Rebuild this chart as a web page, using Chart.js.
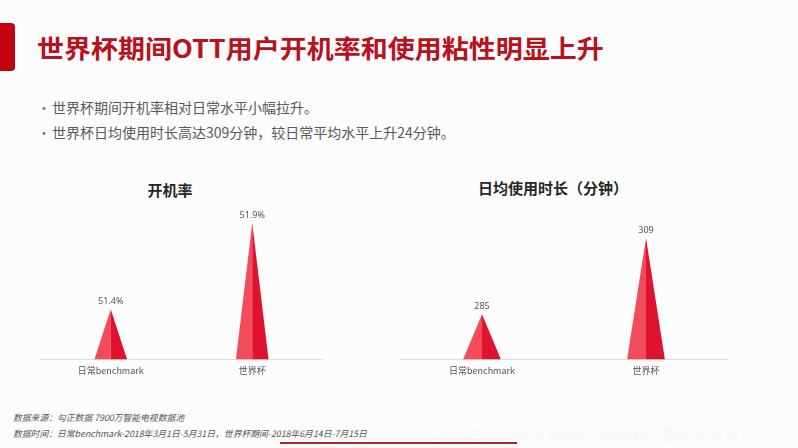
<!DOCTYPE html>
<html>
<head>
<meta charset="utf-8">
<script src="https://cdn.jsdelivr.net/npm/chart.js@4.4.0/dist/chart.umd.min.js"></script>
<style>
  html,body{margin:0;padding:0;}
  body{width:798px;height:448px;background:#fbfcfb;position:relative;overflow:hidden;font-family:"Noto Sans CJK SC","Noto Sans",sans-serif;}
  .bar{position:absolute;left:0;top:23px;width:15px;height:48px;background:#c2000e;border-radius:0 4px 4px 0;}
  .title{position:absolute;left:37px;top:30px;font-size:25px;font-weight:700;color:#b8121d;white-space:nowrap;transform:scaleX(1.08);transform-origin:left center;line-height:34px;}
  .bul{position:absolute;left:37px;font-size:14px;color:#5a5a5a;white-space:nowrap;line-height:18px;}
  .bul span{display:inline-block;width:15px;color:#777;}
  .ctitle{position:absolute;font-size:15px;font-weight:700;color:#262626;white-space:nowrap;transform:translateX(-50%);line-height:20px;}
  .cwrap{position:absolute;}
  .foot{position:absolute;left:13px;font-size:8.8px;font-style:italic;color:#555;white-space:nowrap;line-height:12px;}
  .wm{position:absolute;left:435px;top:424px;font-size:15px;color:#fff;white-space:nowrap;text-shadow:0 0 1px #e2e2e2;}
  .rline{position:absolute;left:280px;top:442px;width:237px;height:2px;background:#b0212a;}
</style>
</head>
<body>
<div class="bar"></div>
<div class="title">世界杯期间OTT用户开机率和使用粘性明显上升</div>
<div class="bul" style="top:98px"><span>•</span>世界杯期间开机率相对日常水平小幅拉升。</div>
<div class="bul" style="top:123px"><span>•</span>世界杯日均使用时长高达309分钟，较日常平均水平上升24分钟。</div>
<div class="ctitle" style="left:170px;top:180px">开机率</div>
<div class="ctitle" style="left:553px;top:178px">日均使用时长（分钟）</div>
<div class="cwrap" style="left:40px;top:197px;width:283px;height:185px"><canvas id="c1"></canvas></div>
<div class="cwrap" style="left:400px;top:197px;width:328px;height:185px"><canvas id="c2"></canvas></div>
<div class="foot" style="top:412px">数据来源：勾正数据 7900万智能电视数据池</div>
<div class="foot" style="top:428px">数据时间：日常benchmark-2018年3月1日-5月31日，世界杯期间-2018年6月14日-7月15日</div>
<div class="wm">2026世界杯FIFA World Cup中国竞彩指定平台</div>
<div class="rline"></div>
<script>
const categories = ['日常benchmark', '世界杯'];
const openRate = [51.4, 51.9];
const openRateLabels = ['51.4%', '51.9%'];
const dailyMinutes = [285, 309];
const dailyMinutesLabels = ['285', '309'];

const conePlugin = {
  id: 'cone',
  afterDatasetsDraw(chart) {
    const ctx = chart.ctx;
    const opts = chart.options.plugins.cone;
    const xs = chart.scales.x, ys = chart.scales.y;
    const values = chart.data.datasets[0].data;
    const catW = (xs.right - xs.left) / values.length;
    const half = catW * opts.widthRatio / 2;
    const base = chart.chartArea.bottom;
    values.forEach((v, i) => {
      const x = xs.getPixelForValue(i);
      const y = ys.getPixelForValue(v);
      ctx.save();
      ctx.beginPath();
      ctx.moveTo(x, y);
      ctx.lineTo(x - half, base);
      ctx.lineTo(x, base);
      ctx.closePath();
      ctx.fillStyle = '#f24c5c';
      ctx.fill();
      ctx.beginPath();
      ctx.moveTo(x, y);
      ctx.lineTo(x, base);
      ctx.lineTo(x + half, base);
      ctx.closePath();
      ctx.fillStyle = '#e0132f';
      ctx.fill();
      ctx.fillStyle = '#555';
      ctx.font = '9px "Noto Sans", "Noto Sans CJK SC", sans-serif';
      ctx.textAlign = 'center';
      ctx.textBaseline = 'bottom';
      ctx.fillText(opts.labels[i], x, y - 3);
      ctx.restore();
    });
  }
};

function makeChart(id, values, labels, ymin, ymax) {
  return new Chart(document.getElementById(id), {
    type: 'bar',
    data: {
      labels: categories,
      datasets: [{ data: values, backgroundColor: 'rgba(0,0,0,0)', borderWidth: 0 }]
    },
    options: {
      responsive: true, maintainAspectRatio: false, animation: false,
      layout: { padding: 0 },
      plugins: { legend: { display: false }, tooltip: { enabled: false }, cone: { labels: labels, widthRatio: 0.23 } },
      scales: {
        x: {
          grid: { display: false, drawTicks: false },
          border: { display: true, color: '#dddddd', width: 1 },
          ticks: { color: '#555', font: { size: 9, family: '"Noto Sans CJK SC", sans-serif' }, padding: 6 }
        },
        y: { display: false, min: ymin, max: ymax }
      }
    },
    plugins: [conePlugin]
  });
}

makeChart('c1', openRate, openRateLabels, 51.11, 52.05);
makeChart('c2', dailyMinutes, dailyMinutesLabels, 270.8, 321.9);
</script>
</body>
</html>
